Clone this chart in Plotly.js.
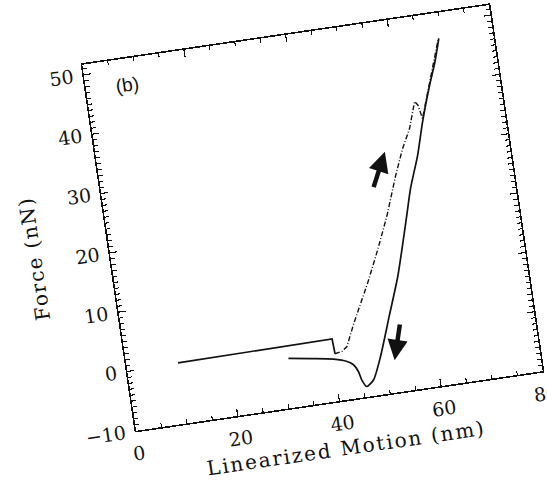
<!DOCTYPE html>
<html>
<head>
<meta charset="utf-8">
<script src="https://cdn.plot.ly/plotly-3.0.1.min.js"></script>
<style>
  html, body { margin: 0; padding: 0; background: #fff; overflow: hidden; }
  #chart { position: absolute; left: 0; top: 0; width: 547px; height: 487px;
           transform-origin: 312px 218px; transform: rotate(-8.35deg); }
  #chart .xtitle { letter-spacing: 1.9px; }
  #chart .ytitle { letter-spacing: 1.5px; }
</style>
</head>
<body>
<div id="chart"></div>
<script>
// Approach: flat baseline (solid)
const approachFlatX = [10.0, 26.2, 40.35, 40.5];
const approachFlatY = [0.2, 0.3, 0.4, -2.1];
// Approach: rising part (dash-dot)
const approachRiseX = [40.5, 40.9, 41.9, 43.0, 45.0, 48.8, 51.7, 54.4, 57.2, 59.3, 61.2, 62.95, 63.5, 64.0, 65.8, 67.6, 69.3];
const approachRiseY = [-2.1, -2.05, -1.9, -1.2, 2.5, 8.8, 14.1, 19.4, 25.8, 30.1, 33.2, 37.6, 36.9, 34.6, 38.85, 43.1, 47.4];
// Retraction (solid)
const retractX = [69.4, 68.0, 66.3, 63.9, 62.0, 59.7, 58.2, 54.8, 52.0, 49.2, 47.2, 45.7, 44.9, 44.5, 43.75, 42.6, 40.06, 35.6, 31.4];
const retractY = [47.4, 43.65, 39.9, 34.0, 28.6, 23.3, 18.9, 9.2, 2.78, -3.63, -7.33, -8.28, -7.05, -5.6, -4.37, -3.67, -2.96, -2.31, -1.73];
// Arrows (tail -> head)
const upArrow = {tail: [52.5, 24.2], head: [55.8, 30.0]};
const downArrow = {tail: [53.9, 1.4], head: [51.8, -4.6]};
const panelLabel = {text: '(b)', x: 8.1, y: 47.2};

const lineCol = '#111';
const traces = [
  {x: approachFlatX, y: approachFlatY, mode: 'lines', line: {color: lineCol, width: 1.7}},
  {x: approachRiseX, y: approachRiseY, mode: 'lines', line: {color: lineCol, width: 1.4, dash: '5px,2px,1px,2px'}},
  {x: retractX, y: retractY, mode: 'lines', line: {color: lineCol, width: 1.7, shape: 'spline', smoothing: 0.6}}
];

const tickFont = {family: 'DejaVu Serif', size: 19, color: '#111'};
const titleFont = {family: 'DejaVu Serif', size: 20, color: '#111'};

function arrowAnn(a) {
  return {x: a.head[0], y: a.head[1], ax: a.tail[0], ay: a.tail[1], xref: 'x', yref: 'y', axref: 'x', ayref: 'y',
          text: '', showarrow: true, arrowhead: 2, arrowsize: 0.9, arrowwidth: 4.5, arrowcolor: '#111', standoff: 0};
}

const layout = {
  width: 547, height: 487,
  margin: {l: 107, r: 29, t: 33, b: 84},
  paper_bgcolor: '#fff', plot_bgcolor: '#fff',
  showlegend: false,
  xaxis: {
    range: [0, 80], tick0: 0, dtick: 20, ticks: 'inside', ticklen: 7, tickwidth: 1.2, tickcolor: '#111',
    minor: {dtick: 5, ticks: 'inside', ticklen: 4, tickwidth: 1.1, tickcolor: '#111'},
    showline: true, linewidth: 1.6, linecolor: '#111', mirror: 'ticks',
    showgrid: false, zeroline: false, tickfont: tickFont, ticklabelstandoff: 5,
    title: {text: '\u00A0\u00A0Linearized Motion (nm)', font: titleFont, standoff: 8}
  },
  yaxis: {
    range: [-10, 51.7], tick0: 0, dtick: 10, ticks: 'inside', ticklen: 7, tickwidth: 1.2, tickcolor: '#111',
    minor: {dtick: 1, ticks: 'inside', ticklen: 4, tickwidth: 1.1, tickcolor: '#111'},
    showline: true, linewidth: 1.6, linecolor: '#111', mirror: 'ticks',
    showgrid: false, zeroline: false, tickfont: tickFont, ticklabelstandoff: 5,
    title: {text: 'Force (nN)', font: titleFont, standoff: 12}
  },
  annotations: [
    {x: panelLabel.x, y: panelLabel.y, xref: 'x', yref: 'y', text: panelLabel.text, showarrow: false,
     font: {family: 'Liberation Sans', size: 19, color: '#111'}},
    arrowAnn(upArrow), arrowAnn(downArrow)
  ]
};

Plotly.newPlot('chart', traces, layout, {staticPlot: true, displayModeBar: false});
</script>
</body>
</html>
